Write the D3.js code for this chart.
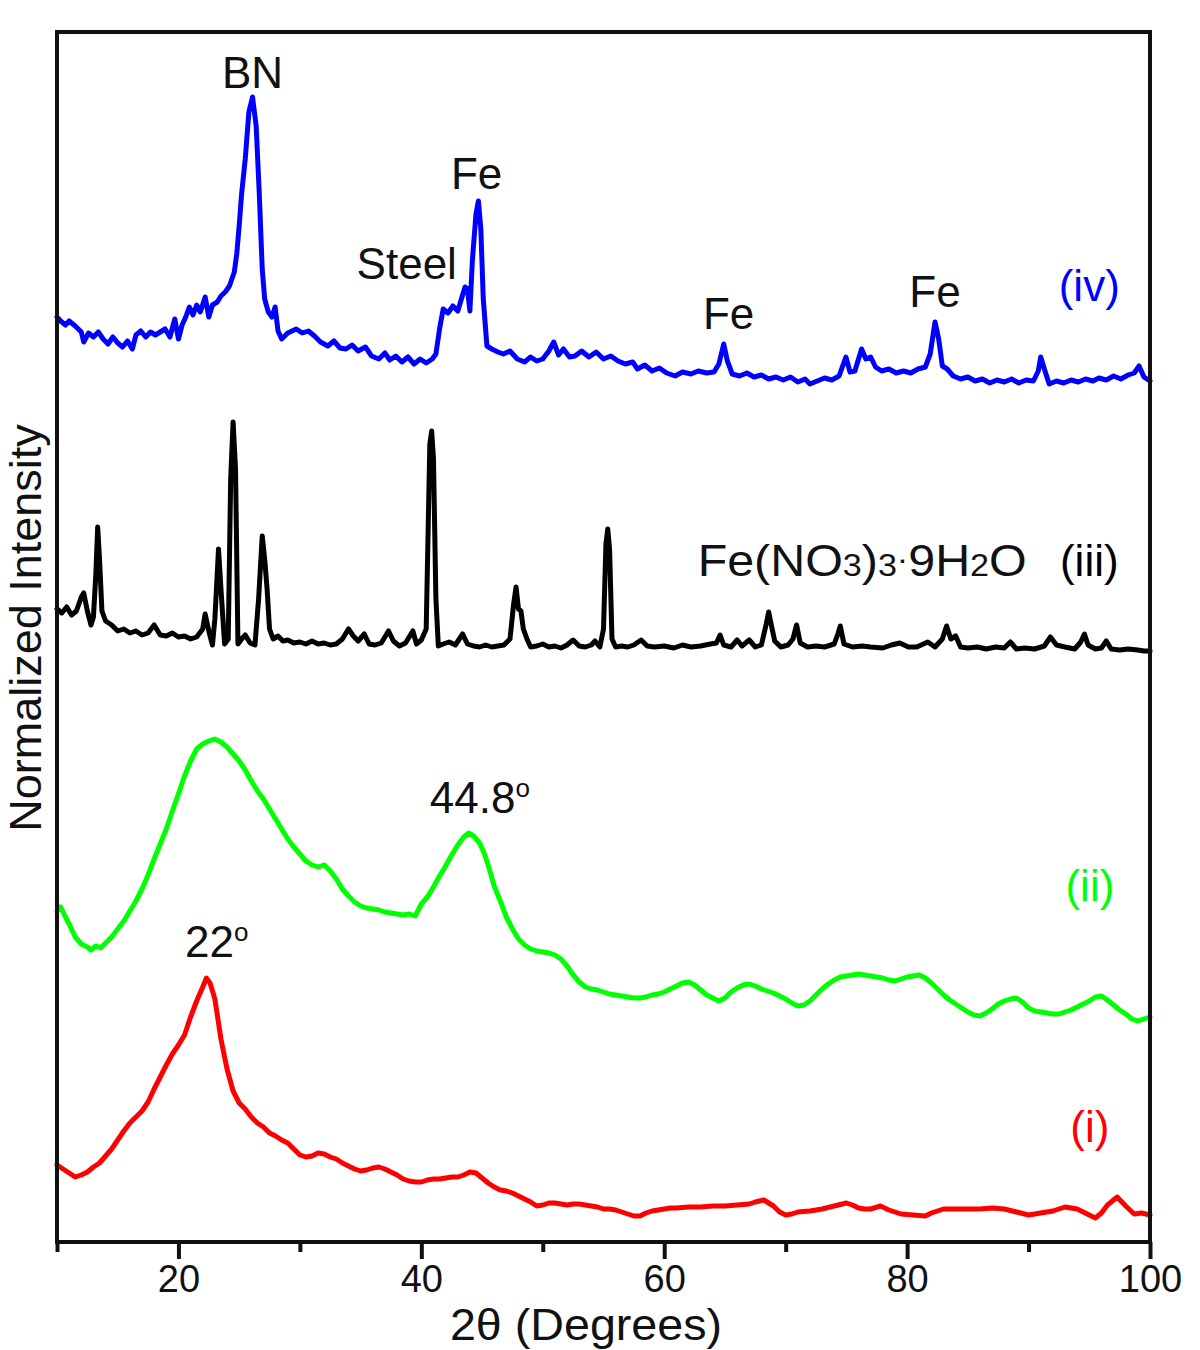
<!DOCTYPE html>
<html><head><meta charset="utf-8">
<script src="https://cdn.jsdelivr.net/npm/d3@7"></script>
<style>
html,body{margin:0;padding:0;background:#fff;}
text{font-family:"Liberation Sans",Arial,Helvetica,sans-serif;}
</style></head>
<body>
<svg id="chart" width="1200" height="1350"></svg>
<script>
// ---- DATA (2θ in degrees, normalized stacked intensity in a.u.) ----
const redTheta=[10.0,10.5,11.0,11.5,12.0,12.5,13.0,13.5,14.0,14.5,15.0,15.5,16.0,16.5,17.0,17.5,18.0,18.5,19.0,19.5,20.0,20.5,21.0,21.5,22.0,22.3,22.6,23.0,23.5,24.0,24.5,25.0,25.5,26.0,26.5,27.0,27.5,28.0,28.5,29.0,29.5,30.0,30.5,31.0,31.5,32.0,32.5,33.0,33.5,34.0,34.5,35.0,35.5,36.0,36.5,37.0,37.5,38.0,38.5,39.0,39.5,40.0,40.5,41.0,41.5,42.0,42.5,43.0,43.5,44.0,44.5,45.0,45.5,46.0,46.5,47.0,47.5,48.0,48.5,49.0,49.5,50.0,50.5,51.0,51.5,52.0,52.5,53.0,53.5,54.0,54.5,55.0,55.5,56.0,56.5,57.0,57.5,58.0,58.5,59.0,59.5,60.0,60.5,61.0,62.0,63.0,64.0,65.0,66.0,67.0,67.5,68.2,69.0,69.5,70.0,70.5,71.0,72.0,73.0,74.0,75.0,75.5,76.0,76.5,77.0,77.8,78.5,79.5,80.5,81.5,82.0,83.0,84.0,85.0,86.0,87.0,88.0,89.0,90.0,91.0,92.0,93.0,94.0,95.0,95.5,96.0,96.5,97.3,98.0,98.7,99.3,100.0];
const redValues=[77,73,69,65,67,70,75,79,86,93,102,111,119,125,131,140,153,165,177,188,197,207,225,241,255,264,259,243,203,173,151,139,133,125,119,115,109,106,102,99,93,87,85,86,89,88,85,83,79,76,73,71,72,74,75,73,70,67,63,61,60,60,62,63,63,64,65,65,67,70,69,64,59,55,52,51,49,46,43,40,36,37,39,39,38,37,38,38,37,36,35,33,33,32,30,28,26,26,29,31,32,33,34,34,35,35,36,36,37,38,40,42,36,30,27,28,30,31,33,36,39,37,34,33,33,36,32,28,27,26,29,33,33,33,33,34,33,30,27,29,31,35,33,27,24,29,37,45,36,28,29,27];

const greenTheta=[10.0,10.3,10.7,11.0,11.5,12.0,12.5,12.8,13.2,13.6,14.0,14.5,15.0,15.5,16.0,16.5,17.0,17.5,18.0,18.5,19.0,19.5,20.0,20.5,21.0,21.5,22.0,22.5,23.0,23.5,24.0,24.5,25.0,25.5,26.0,26.5,27.0,27.5,28.0,28.5,29.0,29.5,30.0,30.5,31.0,31.5,32.0,32.5,33.0,33.5,34.0,34.5,35.0,35.5,36.0,36.5,37.0,37.5,38.0,38.5,39.0,39.5,40.0,40.5,41.0,41.5,42.0,42.5,43.0,43.5,43.9,44.3,44.8,45.2,45.6,46.0,46.5,47.0,47.5,48.0,48.5,49.0,49.5,50.0,50.5,51.0,51.5,52.0,52.5,53.0,53.5,54.0,54.5,55.0,55.5,56.0,56.5,57.0,57.5,58.0,58.5,59.0,59.5,60.0,60.5,61.0,61.5,62.0,62.5,63.0,63.5,64.0,64.5,65.0,65.5,66.0,66.5,67.0,67.5,68.0,68.5,69.0,69.5,70.0,70.5,71.0,71.5,72.0,72.5,73.0,73.5,74.0,74.5,75.0,75.5,76.0,76.5,77.0,77.5,78.0,78.5,79.0,79.5,80.0,80.5,81.0,81.5,82.0,82.5,83.0,83.5,84.0,84.5,85.0,85.5,86.0,86.5,87.0,87.5,88.0,88.5,89.0,89.5,90.0,90.5,91.0,91.5,92.0,92.5,93.0,93.5,94.0,94.5,95.0,95.5,96.0,96.5,97.0,97.5,98.0,98.5,99.0,99.5,100.0];
const greenValues=[331,335,325,318,305,298,295,292,296,294,299,305,313,321,331,341,353,367,383,398,413,431,448,466,481,493,498,501,503,500,495,488,481,472,461,451,443,433,423,413,403,395,388,381,377,375,377,371,363,353,346,340,336,334,333,332,330,329,328,327,328,326,338,345,355,366,376,387,397,405,409,406,399,388,373,356,341,325,313,303,297,293,291,290,289,287,283,276,267,260,255,253,252,250,248,247,246,245,244,244,245,247,248,250,253,256,259,260,257,252,247,244,241,244,250,254,257,258,256,253,251,249,246,243,239,236,237,241,247,253,258,262,265,266,267,268,267,266,265,264,262,261,263,265,266,267,264,259,253,247,242,238,234,230,227,226,229,233,238,241,243,244,240,234,231,230,229,228,228,230,232,235,238,241,245,246,242,237,232,228,223,221,223,225];

const blackTheta=[10.0,10.4,10.8,11.2,11.6,12.0,12.2,12.5,12.8,13.0,13.2,13.35,13.5,13.7,14.0,14.5,15.0,15.5,16.0,16.5,17.0,17.5,18.0,18.5,19.0,19.5,20.0,20.5,21.0,21.5,22.0,22.2,22.5,22.8,23.0,23.3,23.5,23.8,24.1,24.3,24.5,24.7,24.9,25.2,25.5,25.9,26.3,26.6,26.9,27.1,27.3,27.5,27.8,28.2,28.6,29.0,29.5,30.0,30.5,31.0,31.5,32.0,32.5,33.0,33.5,34.0,34.4,34.8,35.3,35.7,36.2,36.7,37.3,37.7,38.2,38.7,39.3,39.6,40.0,40.4,40.7,40.85,41.0,41.2,41.4,41.8,42.3,42.8,43.4,43.8,44.3,44.8,45.3,45.8,46.3,46.8,47.3,47.6,47.8,48.0,48.2,48.4,48.7,49.0,49.5,50.0,50.5,51.0,51.5,52.0,52.5,53.0,53.5,54.0,54.3,54.7,55.0,55.2,55.35,55.5,55.7,56.0,56.5,57.0,57.5,58.1,58.6,59.2,60.0,60.8,61.5,62.2,63.0,63.8,64.3,64.6,64.9,65.5,66.0,66.4,67.0,67.5,68.0,68.4,68.6,68.8,69.1,69.6,70.2,70.6,70.9,71.2,71.8,72.5,73.2,74.0,74.3,74.5,74.8,75.5,76.3,77.0,78.0,78.7,79.4,80.1,80.8,81.7,82.3,82.9,83.25,83.6,84.0,84.4,85.0,85.8,86.5,87.3,88.0,88.5,89.0,89.7,90.5,91.3,91.8,92.3,93.0,93.8,94.3,94.6,94.9,95.5,96.0,96.4,96.8,97.5,98.2,99.0,99.5,100.0];
const blackValues=[633,629,635,627,631,645,649,631,617,625,668,715,683,631,621,617,611,613,609,611,607,609,617,607,606,609,605,606,603,605,613,628,611,597,623,693,653,598,603,763,820,773,598,603,607,599,597,643,706,683,653,613,603,606,601,602,599,600,598,601,598,599,597,598,603,613,606,601,608,598,597,599,611,601,596,599,611,598,602,613,798,811,783,643,596,598,600,597,608,598,596,595,597,595,596,597,603,638,655,633,631,613,603,595,596,598,595,596,594,597,602,596,595,597,601,595,613,698,713,693,603,595,596,595,597,602,596,595,596,594,597,595,596,598,599,607,597,595,602,596,602,595,597,618,630,618,601,595,597,603,617,599,595,596,595,598,608,616,598,595,596,595,594,597,599,595,595,600,595,603,616,603,606,595,594,595,593,595,594,600,593,594,593,596,605,597,595,593,600,608,597,593,594,601,593,592,593,592,591,591];

const blueTheta=[10.0,10.3,10.7,11.0,11.5,12.0,12.2,12.6,13.0,13.4,13.8,14.2,14.6,15.0,15.4,15.8,16.2,16.5,16.9,17.3,17.7,18.1,18.5,18.9,19.3,19.7,20.0,20.3,20.6,20.9,21.2,21.5,21.8,22.2,22.5,22.8,23.2,23.5,23.85,24.2,24.6,24.8,25.0,25.2,25.5,25.8,26.1,26.4,26.65,26.9,27.1,27.4,27.7,27.96,28.2,28.5,29.0,29.7,30.2,30.7,31.2,31.7,32.3,32.8,33.3,33.8,34.3,34.8,35.4,35.9,36.5,37.0,37.4,37.9,38.4,38.9,39.4,39.9,40.4,40.9,41.2,41.5,41.8,42.2,42.6,43.0,43.3,43.6,43.8,44.0,44.2,44.5,44.7,44.9,45.1,45.4,45.8,46.3,46.75,47.3,47.9,48.5,49.0,49.5,50.0,50.5,50.9,51.3,51.7,52.2,52.65,53.2,53.8,54.4,55.0,55.6,56.2,56.8,57.4,57.8,58.4,59.0,59.6,60.2,60.9,61.5,62.2,62.8,63.5,64.1,64.5,64.9,65.2,65.6,66.2,66.8,67.4,68.0,68.6,69.2,69.8,70.4,71.0,71.6,72.0,72.6,73.2,73.8,74.4,74.96,75.3,75.7,76.25,76.6,77.0,77.4,77.9,78.5,79.1,79.7,80.3,80.9,81.5,81.9,82.3,82.6,82.9,83.3,83.8,84.4,85.0,85.6,86.2,86.8,87.4,88.0,88.6,89.2,89.8,90.4,90.8,91.0,91.3,91.7,92.3,92.9,93.5,94.1,94.7,95.3,95.8,96.4,97.0,97.6,98.2,98.7,99.1,99.5,100.0];
const blueValues=[925,921,917,921,916,910,900,909,905,910,903,898,905,899,895,901,893,907,911,905,910,907,910,913,905,923,903,917,925,935,927,937,930,945,925,937,940,946,950,956,970,988,1016,1048,1083,1130,1145,1116,1050,973,943,930,925,935,911,903,909,913,909,911,906,900,896,901,894,893,897,891,895,886,883,889,882,886,880,885,878,883,879,883,888,913,933,929,936,931,943,955,953,931,981,1028,1041,1013,943,896,893,890,888,891,883,880,885,881,883,891,900,887,893,885,886,891,885,890,883,886,881,878,880,873,877,871,874,869,866,870,868,871,869,870,878,898,881,868,866,869,865,867,863,865,862,865,860,863,858,861,864,862,866,885,870,871,893,883,885,875,871,873,869,871,869,873,875,888,920,903,876,873,866,863,865,861,863,859,862,860,863,859,862,861,871,885,873,858,861,859,862,860,863,861,864,862,866,863,867,869,876,865,861];

const seriesNames=["(i)","(ii)","(iii)","(iv)"];
const seriesColors=["#ff0000","#00ff00","#000000","#0000ff"];
const majorTicks=[20,40,60,80,100];
const minorTicks=[10,30,50,70,90];
const xLabel="2θ (Degrees)";
const yLabel="Normalized Intensity";

// ---- CHART ----
const svg=d3.select("#chart");
const L=57,R=1150,T=32,B=1242;
const x=d3.scaleLinear().domain([10,100]).range([L,R]);
const y=d3.scaleLinear().domain([0,1210]).range([B,T]);

const series=[
  {theta:redTheta,vals:redValues},
  {theta:greenTheta,vals:greenValues},
  {theta:blackTheta,vals:blackValues},
  {theta:blueTheta,vals:blueValues}
];
const line=d3.line().x(d=>x(d[0])).y(d=>y(d[1]));
series.forEach((s,i)=>{
  const pts=s.theta.map((t,k)=>[t,s.vals[k]]);
  svg.append("path").attr("d",line(pts)).attr("fill","none")
    .attr("stroke",seriesColors[i]).attr("stroke-width",5)
    .attr("stroke-linejoin","round").attr("stroke-linecap","round");
});

// frame
svg.append("rect").attr("x",L).attr("y",T).attr("width",R-L).attr("height",B-T)
  .attr("fill","none").attr("stroke","#111").attr("stroke-width",4);

// axes
const gMaj=svg.append("g").attr("transform",`translate(0,${B})`)
  .call(d3.axisBottom(x).tickValues(majorTicks).tickSize(17).tickPadding(6).tickFormat(d3.format("d")));
const gMin=svg.append("g").attr("transform",`translate(0,${B})`)
  .call(d3.axisBottom(x).tickValues(minorTicks).tickSize(10).tickFormat(""));
[gMaj,gMin].forEach(g=>{
  g.select(".domain").remove();
  g.selectAll(".tick line").attr("stroke","#111").attr("stroke-width",4);
});
gMaj.selectAll(".tick text").attr("font-size",38).attr("fill","#111")
  .attr("font-family","Liberation Sans, Arial, sans-serif");

svg.append("text").attr("transform","translate(586,1340) scale(1.06,1)").attr("text-anchor","middle")
  .attr("font-size",44).attr("fill","#111").text(xLabel);
svg.append("text").attr("transform","translate(41,628) rotate(-90)").attr("text-anchor","middle")
  .attr("font-size",45).attr("fill","#111").text(yLabel);

// annotations
const ann=[
  {t:"BN",th:26.1,v:1154},
  {t:"Fe",th:44.55,v:1053},
  {t:"Steel",th:38.8,v:963},
  {t:"Fe",th:65.3,v:913},
  {t:"Fe",th:82.3,v:935}
];
ann.forEach(a=>svg.append("text").attr("x",x(a.th)).attr("y",y(a.v))
  .attr("text-anchor","middle").attr("font-size",44).attr("fill","#111").text(a.t));

// series labels
const labelPos=[{th:95.05,v:100},{th:95.05,v:341},{th:95.0,v:666},{th:95.0,v:941}];
labelPos.forEach((p,i)=>svg.append("text").attr("x",x(p.th)).attr("y",y(p.v))
  .attr("text-anchor","middle").attr("font-size",44).attr("fill",seriesColors[i]).text(seriesNames[i]));

// Fe(NO3)3·9H2O
const f=svg.append("text").attr("transform",`translate(${x(76.3)},${y(666)}) scale(1.1,1)`).attr("text-anchor","middle")
  .attr("font-size",44).attr("fill","#111");
f.append("tspan").text("Fe(NO");
f.append("tspan").attr("font-size",31).text("3");
f.append("tspan").text(")");
f.append("tspan").attr("font-size",31).text("3");
f.append("tspan").attr("font-size",31).attr("dy",-6).text("·");
f.append("tspan").attr("dy",6).text("9H");
f.append("tspan").attr("font-size",31).text("2");
f.append("tspan").text("O");

// degree annotations
function degLabel(num,th,v){
  const t=svg.append("text").attr("x",x(th)).attr("y",y(v)).attr("font-size",44).attr("fill","#111");
  t.append("tspan").text(num);
  t.append("tspan").attr("font-size",26).attr("dy",-16).text("o");
}
degLabel("22",20.55,285);
degLabel("44.8",40.7,429);
</script>
</body></html>
